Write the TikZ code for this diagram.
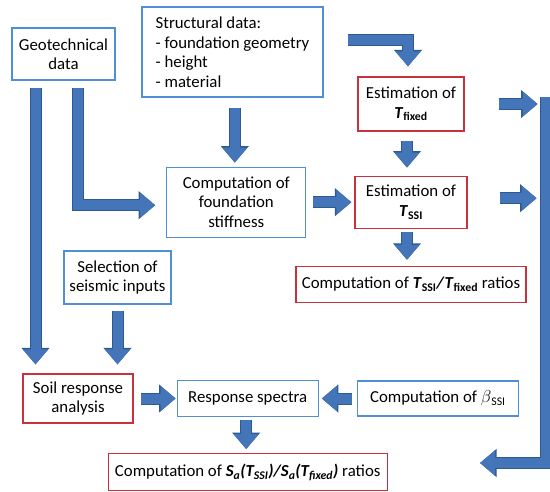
\documentclass[tikz,border=0pt]{standalone}
\usepackage{fontspec}
\setmainfont{Carlito}
\usetikzlibrary{positioning,calc,arrows.meta}
\definecolor{boxblue}{HTML}{4F8FD6}
\definecolor{boxred}{HTML}{C8323C}
\definecolor{arrowfill}{HTML}{4475B8}
\definecolor{arrowedge}{HTML}{2D5A93}
\tikzset{>={Triangle[length=15pt,width=24pt]}}

\newcommand{\Tf}{\textbf{\textit{T}}\textsubscript{\textbf{fixed}}}
\newcommand{\Ts}{\textbf{\textit{T}}\textsubscript{\textbf{SSI}}}

\begin{document}
\begin{tikzpicture}[x=1pt,y=-1pt,node distance=40pt,
                    font=\fontsize{16.8}{19.5}\selectfont]
      \tikzstyle{box}=[draw,line width=1.2pt,align=center,inner sep=3pt]
      \tikzstyle{bluebox}=[box,draw=boxblue]
      \tikzstyle{redbox}=[box,draw=boxred]
      \tikzstyle{flow}=[->,line width=10pt,draw=arrowfill,line join=miter,
                        preaction={draw=arrowedge,line width=12pt,
                                   -{Triangle[length=16.5pt,width=27pt]}}]

      \useasboundingbox (0,0) rectangle (550,491);

      \node[bluebox] (geo)    [minimum width=103pt,minimum height=52pt] at (63.5,54)  {Geotechnical\\data};
      \node[bluebox] (struct) [minimum width=181pt,minimum height=90pt,align=left] at (232.5,52)
            {Structural data:\\- foundation geometry\\- height\\- material};
      \node[redbox]  (tfix)   [minimum width=106pt,minimum height=54pt] at (411,104)  {Estimation of\\\Tf};
      \node[redbox]  (tssi)   [minimum width=112pt,minimum height=52pt,below=44pt of tfix] {Estimation of\\\Ts};
      \node[bluebox] (found)  [minimum width=139pt,minimum height=70pt,left=48pt of tssi]  {Computation of\\foundation\\stiffness};
      \node[redbox]  (ratio1) [minimum width=230pt,minimum height=36pt,below=37pt of tssi]
            {Computation of \Ts\textbf{\textit{/}}\Tf{} ratios};
      \node[bluebox] (sel)    [minimum width=107pt,minimum height=53pt] at (117.5,277.5) {Selection of\\seismic inputs};
      \node[redbox]  (soil)   [minimum width=110pt,minimum height=49pt] at (78,398.5) {Soil response\\analysis};
      \node[bluebox] (resp)   [minimum width=141pt,minimum height=36pt,right=43pt of soil] {Response spectra};
      \node[bluebox] (beta)   [minimum width=161pt,minimum height=35pt,right=38pt of resp]
            {Computation of $\beta$\textsubscript{SSI}};
      \node[redbox]  (ratio2) [minimum width=279pt,minimum height=37pt,below=36pt of resp]
            {Computation of {\bfseries\itshape S\textsubscript{a}(T\textsubscript{SSI})/S\textsubscript{a}(T\textsubscript{fixed})} ratios};

      % right-hand collector
      \coordinate (bartop) at (546,97);
      \coordinate (bartip) at (480,463);

      \draw[flow] ($(geo.south)+(-28,7)$)            -- ($(geo.south |- soil.north)+(-28,-9)$);
      \draw[flow] ($(geo.south)+(14.5,7)$)           |- ($(found.west)+(-11,3)$);
      \draw[flow] ($(found.north |- struct.south)+(-1.5,10)$) -- ($(found.north)+(-1.5,-4)$);
      \draw[flow] ($(struct.east)+(24,-12)$)         -| ($(tfix.north)+(-3,-10)$);
      \draw[flow] ($(tfix.east)+(34,0)$)             -- ($(tfix.east)+(73,0)$);
      \draw[flow] ($(tfix.south)+(-4,9)$)            -- ($(tssi.north)+(-4,-8)$);
      \draw[flow] ($(found.east)+(7,0)$)             -- ($(tssi.west)+(-3,0)$);
      \draw[flow] ($(tssi.east)+(32,-4)$)            -- ($(tssi.east)+(69,-4)$);
      \draw[flow] ($(tssi.south)+(-4,3)$)            -- ($(ratio1.north)+(-4,-6)$);
      \draw[flow] (bartop)                           |- (bartip);
      \draw[flow] ($(sel.south)+(0,6)$)              -- ($(sel.south |- soil.north)+(0,-9)$);
      \draw[flow] ($(soil.east)+(7,0)$)              -- ($(resp.west)+(-1,0)$);
      \draw[flow] ($(beta.west)+(-5,0)$)             -- ($(resp.east)+(3,0)$);
      \draw[flow] ($(resp.south)+(-1.5,3)$)          -- ($(ratio2.north)+(-1.5,-4)$);
\end{tikzpicture}
\end{document}
